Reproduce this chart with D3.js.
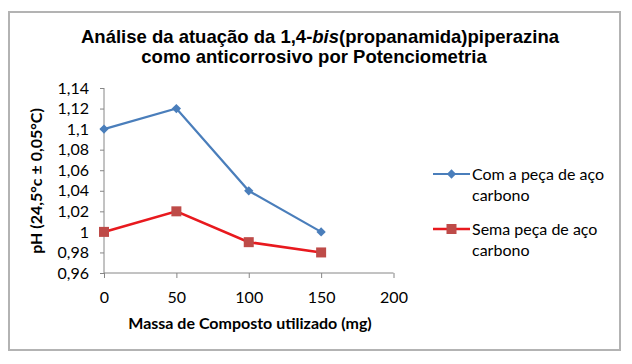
<!DOCTYPE html>
<html><head><meta charset="utf-8">
<script src="https://cdn.jsdelivr.net/npm/d3@7"></script>
<style>body{margin:0;background:#fff}svg{display:block}</style>
</head><body>
<script>
const masses = [0, 50, 100, 150];
const comPeca = [1.10, 1.12, 1.04, 1.00];
const semPeca = [1.00, 1.02, 0.99, 0.98];
const yTicks = [0.96, 0.98, 1.00, 1.02, 1.04, 1.06, 1.08, 1.10, 1.12, 1.14];
const xTicks = [0, 50, 100, 150, 200];
const seriesNames = [["Com a peça de aço", "carbono"], ["Sema peça de aço", "carbono"]];
const titleLines = ["Análise da atuação da 1,4-", "bis", "(propanamida)piperazina", "como anticorrosivo por Potenciometria"];

const W = 632, H = 364;
const svg = d3.select("body").append("svg").attr("width", W).attr("height", H);
svg.append("rect").attr("x", 9).attr("y", 12).attr("width", 611).attr("height", 338)
  .attr("fill", "#fff").attr("stroke", "#b3b3b3").attr("stroke-width", 2);

const x = d3.scaleLinear().domain([0, 200]).range([104, 393.5]);
const y = d3.scaleLinear().domain([0.96, 1.14]).range([273, 88]);
const lblFont = "Lato, 'Open Sans', sans-serif";
const fs = 16;
const fmt = d => d3.format(".2f")(d).replace(".", ",").replace(/0+$/, "").replace(/,$/, "");

// title
const tf = "'Liberation Sans', Arial, sans-serif";
const t = svg.append("text").attr("x", 320).attr("y", 43).attr("text-anchor", "middle")
  .attr("font-family", tf).attr("font-weight", "bold").attr("font-size", 18.5).attr("fill", "#000");
t.append("tspan").text(titleLines[0]);
t.append("tspan").attr("font-style", "italic").text(titleLines[1]);
t.append("tspan").text(titleLines[2]);
svg.append("text").attr("x", 314).attr("y", 63).attr("text-anchor", "middle")
  .attr("font-family", tf).attr("font-weight", "bold").attr("font-size", 18.5).attr("fill", "#000")
  .text(titleLines[3]);

// axes
const yAxis = d3.axisLeft(y).tickValues(yTicks).tickSize(4).tickPadding(11).tickFormat(fmt);
const gy = svg.append("g").attr("transform", "translate(104,0)").call(yAxis);
const xAxis = d3.axisBottom(x).tickValues(xTicks).tickSize(5).tickPadding(14).tickFormat(d3.format("d"));
const gx = svg.append("g").attr("transform", "translate(0,273)").call(xAxis);
[gx, gy].forEach(g => {
  g.select(".domain").attr("stroke", "#868686").attr("stroke-width", 1);
  g.selectAll(".tick line").attr("stroke", "#868686");
  g.selectAll(".tick text").attr("font-family", lblFont).attr("font-size", fs).attr("fill", "#000");
});
gy.select(".domain").attr("d", "M0,88V273");
gx.select(".domain").attr("d", "M104,0H393.5");

// axis titles
svg.append("text").attr("transform", "translate(42,181) rotate(-90)").attr("text-anchor", "middle")
  .attr("font-family", lblFont).attr("font-weight", "bold").attr("font-size", fs).text("pH (24,5°c ± 0,05°C)");
svg.append("text").attr("x", 250).attr("y", 329).attr("text-anchor", "middle")
  .attr("font-family", lblFont).attr("font-weight", "bold").attr("font-size", fs).text("Massa de Composto utilizado  (mg)");

const line = d3.line().x((d, i) => x(masses[i])).y(d => y(d));
const blue = "#4a7ebb", redLine = "#e8191e", redMark = "#be4b48";

svg.append("path").datum(comPeca).attr("d", line).attr("fill", "none").attr("stroke", blue).attr("stroke-width", 2.2);
svg.append("path").datum(semPeca).attr("d", line).attr("fill", "none").attr("stroke", redLine).attr("stroke-width", 2.6);

const diamond = d3.symbol().type(d3.symbolDiamond2).size(55);
svg.selectAll(".dm").data(comPeca).join("path")
  .attr("transform", (d, i) => `translate(${x(masses[i])},${y(d)})`).attr("d", diamond).attr("fill", blue);
svg.selectAll(".sq").data(semPeca).join("rect")
  .attr("x", (d, i) => x(masses[i]) - 5).attr("y", d => y(d) - 5).attr("width", 10).attr("height", 10).attr("fill", redMark);

// legend
const legY = [174, 229];
legY.forEach((ly, k) => {
  svg.append("line").attr("x1", 433).attr("x2", 470).attr("y1", ly).attr("y2", ly)
    .attr("stroke", k === 0 ? blue : redLine).attr("stroke-width", k === 0 ? 2.2 : 2.6);
  if (k === 0) svg.append("path").attr("transform", `translate(451.5,${ly})`).attr("d", diamond).attr("fill", blue);
  else svg.append("rect").attr("x", 446.5).attr("y", ly - 5).attr("width", 10).attr("height", 10).attr("fill", redMark);
  seriesNames[k].forEach((s, j) => {
    svg.append("text").attr("x", 472).attr("y", ly + 6 + j * 21).attr("font-family", lblFont)
      .attr("font-size", fs).attr("fill", "#000").text(s);
  });
});
</script>
</body></html>
